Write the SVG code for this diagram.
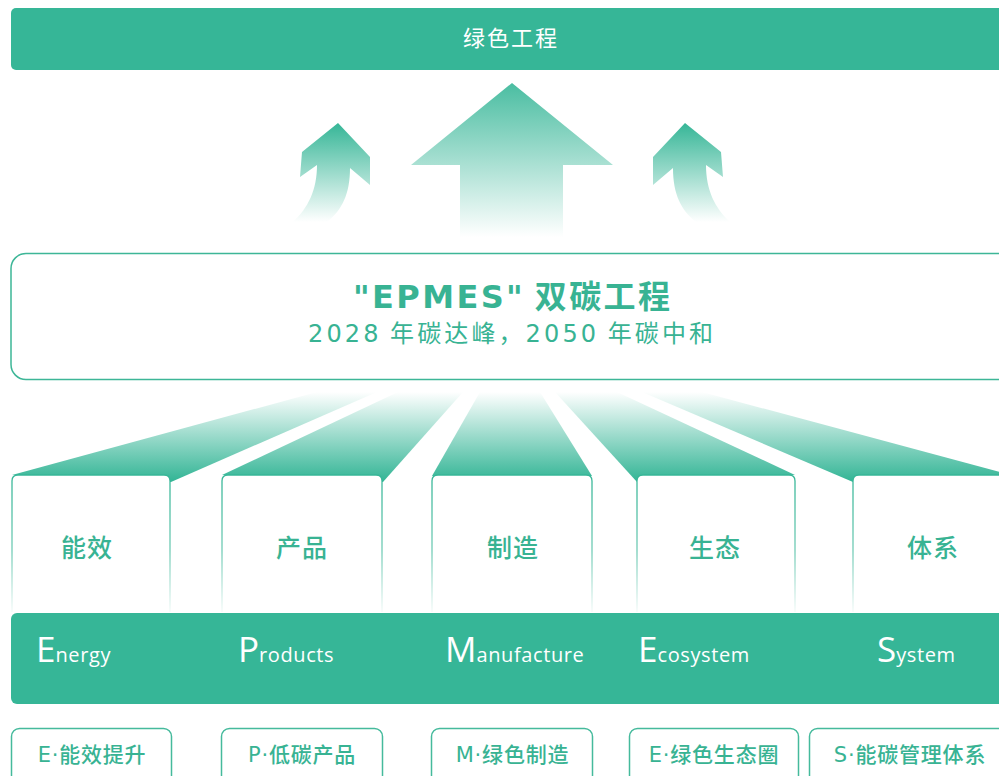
<svg xmlns="http://www.w3.org/2000/svg" width="999" height="776" viewBox="0 0 999 776">
<defs>
<style>
.cjk{font-family:"Noto Sans CJK SC","Noto Sans",sans-serif}
.lat{font-family:"Open Sans","Noto Sans","Noto Sans CJK SC",sans-serif}
.wide{font-family:"DejaVu Sans","Noto Sans CJK SC",sans-serif}
.g{fill:#36b697}
.tg{fill:#38b393}
.card{fill:#fff;stroke:url(#cardStroke);stroke-width:1.3}
.pill{fill:#fff;stroke:#45ba9c;stroke-width:1.5}
.cardLbl{font-size:25px;font-weight:500;letter-spacing:1px;text-anchor:middle}
.pillLbl{font-size:21px;font-weight:500;letter-spacing:0.8px;text-anchor:middle}
.big{font-size:35px}
.small{font-size:20px;letter-spacing:0.6px}
</style>
<linearGradient id="arrowG" x1="0" y1="0" x2="0" y2="1">
<stop offset="0" stop-color="#36b697"/>
<stop offset="1" stop-color="#36b697" stop-opacity="0"/>
</linearGradient>
<linearGradient id="bigArrowG" x1="0" y1="0" x2="0" y2="1">
<stop offset="0" stop-color="#36b697" stop-opacity="0.9"/>
<stop offset="1" stop-color="#36b697" stop-opacity="0"/>
</linearGradient>
<linearGradient id="fanG" gradientUnits="userSpaceOnUse" x1="0" y1="392" x2="0" y2="480">
<stop offset="0" stop-color="#36b697" stop-opacity="0"/>
<stop offset="1" stop-color="#36b697"/>
</linearGradient>
<linearGradient id="cardStroke" gradientUnits="userSpaceOnUse" x1="0" y1="475" x2="0" y2="612">
<stop offset="0" stop-color="#36b697"/>
<stop offset="0.55" stop-color="#36b697" stop-opacity="0.7"/>
<stop offset="1" stop-color="#36b697" stop-opacity="0.05"/>
</linearGradient>
</defs>
<rect width="999" height="776" fill="#fff"/>

<g id="green-engineering">
<rect x="11" y="8" width="1000" height="62" rx="5" class="g"/>
<text x="511" y="46" class="cjk" font-size="22" fill="#fff" text-anchor="middle" letter-spacing="2">绿色工程</text>
</g>

<g id="arrows">
<path d="M338 123 L370 157 L370 185 L350 168 C350 194 342 210 327 222 L293 222 C308 208 317 190 317 165 L300 177 L302 152 Z" fill="url(#arrowG)"/>
<path d="M685 123 L653 157 L653 185 L673 168 C673 194 681 210 696 222 L730 222 C715 208 706 190 706 165 L723 177 L721 152 Z" fill="url(#arrowG)"/>
<path d="M512 83 L613 165 L563 165 L563 237 L460 237 L460 165 L411 165 Z" fill="url(#bigArrowG)"/>
</g>

<g id="epmes">
<rect x="11" y="253.5" width="1010" height="126" rx="15" fill="#fff" stroke="#3db697" stroke-width="1.5"/>
<text x="353" y="308" class="cjk tg" font-size="32" font-weight="bold" textLength="317" lengthAdjust="spacing"><tspan class="wide">"EPMES"</tspan> 双碳工程</text>
<text x="308" y="342" class="cjk tg" font-size="24" textLength="405" lengthAdjust="spacing"><tspan class="wide">2028</tspan> 年碳达峰，<tspan class="wide">2050</tspan> 年碳中和</text>
</g>

<g id="connectors">
<polygon points="317,392 377,392 171,482 12,475" fill="url(#fanG)"/>
<polygon points="398,392 463,392 383,482 222,475" fill="url(#fanG)"/>
<polygon points="480,392 540,392 592,476 432,476" fill="url(#fanG)"/>
<polygon points="555,392 617,392 795,475 637,482" fill="url(#fanG)"/>
<polygon points="642,392 702,392 1011,475 853,482" fill="url(#fanG)"/>
</g>

<g id="card-energy">
<path d="M12 612 V481 Q12 475 18 475 H164 Q170 475 170 481 V612" class="card"/>
<text x="87" y="557" class="cjk tg cardLbl">能效</text>
</g>
<g id="card-products">
<path d="M222 612 V481 Q222 475 228 475 H376 Q382 475 382 481 V612" class="card"/>
<text x="302" y="557" class="cjk tg cardLbl">产品</text>
</g>
<g id="card-manufacture">
<path d="M432 612 V481 Q432 475 438 475 H586 Q592 475 592 481 V612" class="card"/>
<text x="513" y="557" class="cjk tg cardLbl">制造</text>
</g>
<g id="card-ecosystem">
<path d="M637 612 V481 Q637 475 643 475 H789 Q795 475 795 481 V612" class="card"/>
<text x="715" y="557" class="cjk tg cardLbl">生态</text>
</g>
<g id="card-system">
<path d="M853 612 V481 Q853 475 859 475 H1005 Q1011 475 1011 481 V612" class="card"/>
<text x="933" y="557" class="cjk tg cardLbl">体系</text>
</g>

<g id="band">
<rect x="11" y="613" width="1000" height="91" rx="6" class="g"/>
<text x="36" y="662" class="lat" fill="#fff"><tspan class="big">E</tspan><tspan class="small">nergy</tspan></text>
<text x="238" y="662" class="lat" fill="#fff"><tspan class="big">P</tspan><tspan class="small">roducts</tspan></text>
<text x="445" y="662" class="lat" fill="#fff"><tspan class="big">M</tspan><tspan class="small">anufacture</tspan></text>
<text x="638" y="662" class="lat" fill="#fff"><tspan class="big">E</tspan><tspan class="small">cosystem</tspan></text>
<text x="877" y="662" class="lat" fill="#fff"><tspan class="big">S</tspan><tspan class="small">ystem</tspan></text>
</g>

<g id="pill-e">
<rect x="11.5" y="728.5" width="160" height="60" rx="8" class="pill"/>
<text x="92" y="762" class="cjk tg pillLbl"><tspan class="wide">E·</tspan>能效提升</text>
</g>
<g id="pill-p">
<rect x="221.5" y="728.5" width="161" height="60" rx="8" class="pill"/>
<text x="302" y="762" class="cjk tg pillLbl"><tspan class="wide">P·</tspan>低碳产品</text>
</g>
<g id="pill-m">
<rect x="431.5" y="728.5" width="161" height="60" rx="8" class="pill"/>
<text x="512.5" y="762" class="cjk tg pillLbl"><tspan class="wide">M·</tspan>绿色制造</text>
</g>
<g id="pill-e2">
<rect x="629.5" y="728.5" width="169" height="60" rx="8" class="pill"/>
<text x="714" y="762" class="cjk tg pillLbl"><tspan class="wide">E·</tspan>绿色生态圈</text>
</g>
<g id="pill-s">
<rect x="809.5" y="728.5" width="202" height="60" rx="8" class="pill"/>
<text x="910" y="762" class="cjk tg pillLbl"><tspan class="wide">S·</tspan>能碳管理体系</text>
</g>
</svg>
